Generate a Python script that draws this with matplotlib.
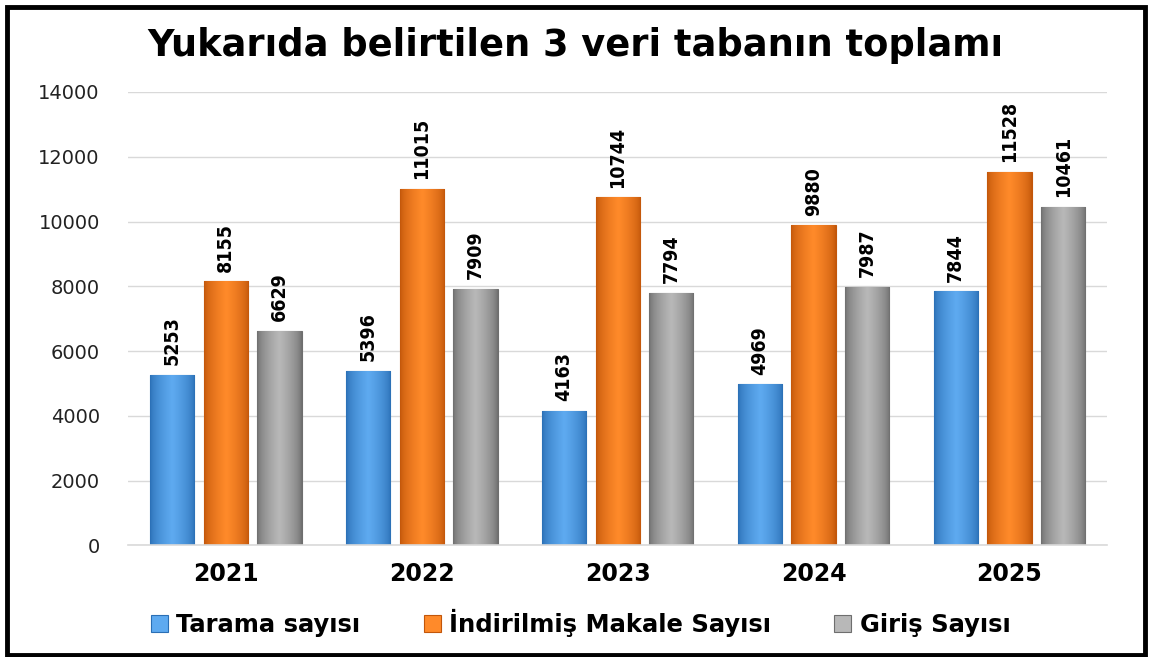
import numpy as np
import matplotlib.pyplot as plt
from matplotlib.patches import Rectangle
from matplotlib.colors import LinearSegmentedColormap

years = ['2021', '2022', '2023', '2024', '2025']
series = ['Tarama sayısı', 'İndirilmiş Makale Sayısı', 'Giriş Sayısı']
tarama = [5253, 5396, 4163, 4969, 7844]
indirilmis = [8155, 11015, 10744, 9880, 11528]
giris = [6629, 7909, 7794, 7987, 10461]
values = [tarama, indirilmis, giris]

# (dark edge, light middle) for each series
shades = [('#2a6fb5', '#5eaaf0'),
          ('#c2560a', '#ff8a2a'),
          ('#6e6e6e', '#b8b8b8')]

fig = plt.figure(figsize=(11.5, 6.57), dpi=100)
ax = fig.add_axes([0.111, 0.17, 0.852, 0.69])

x = np.arange(len(years))
width = 0.225
offsets = [-0.275, 0, 0.275]

grad = np.concatenate([np.linspace(0, 1, 30), np.linspace(1, 0, 30)]) ** 0.6
grad = grad.reshape(1, -1)

for vals, off, (dark, light), name in zip(values, offsets, shades, series):
    bars = ax.bar(x + off, vals, width, color=light, edgecolor=dark,
                  linewidth=0.8, label=name, zorder=2)
    cmap = LinearSegmentedColormap.from_list(name, [dark, light])
    for b, v in zip(bars, vals):
        x0 = b.get_x()
        im = ax.imshow(grad, cmap=cmap, aspect='auto', zorder=2.5,
                       extent=(x0, x0 + width, 0, v), interpolation='bicubic')
        im.set_clip_path(b)
        ax.text(b.get_x() + width / 2, v + 300, str(v), rotation=90,
                ha='center', va='bottom', fontsize=14, fontweight='bold',
                fontstretch='condensed', family='DejaVu Sans')

ax.set_xlim(-0.5, 4.5)
ax.set_ylim(0, 14000)
ax.set_yticks(range(0, 14001, 2000))
ax.set_xticks(x)
ax.set_xticklabels(years, fontsize=17, fontweight='bold')
ax.tick_params(axis='y', labelsize=14, length=0, pad=20, colors='#222222')
ax.tick_params(axis='x', length=0, pad=12)
ax.grid(axis='y', color='#d9d9d9', linewidth=1, zorder=0)
ax.set_axisbelow(True)
for s in ['top', 'right', 'left']:
    ax.spines[s].set_visible(False)
ax.spines['bottom'].set_color('#d9d9d9')
ax.spines['bottom'].set_linewidth(1.2)

fig.text(0.5, 0.93, 'Yukarıda belirtilen 3 veri tabanın toplamı',
         ha='center', va='center', fontsize=26.5, fontweight='bold')

fig.legend(loc='center', bbox_to_anchor=(0.505, 0.052), ncol=3,
           frameon=False, handlelength=0.7, handleheight=0.7,
           columnspacing=2.6, handletextpad=0.35,
           prop={'family': 'DejaVu Sans', 'weight': 'bold', 'size': 17.5})

# outer frame
fig.patches.append(Rectangle((0.006, 0.003), 0.99, 0.987, transform=fig.transFigure,
                             fill=False, edgecolor='black', linewidth=3.5))

fig.savefig('out.png', dpi=100)
